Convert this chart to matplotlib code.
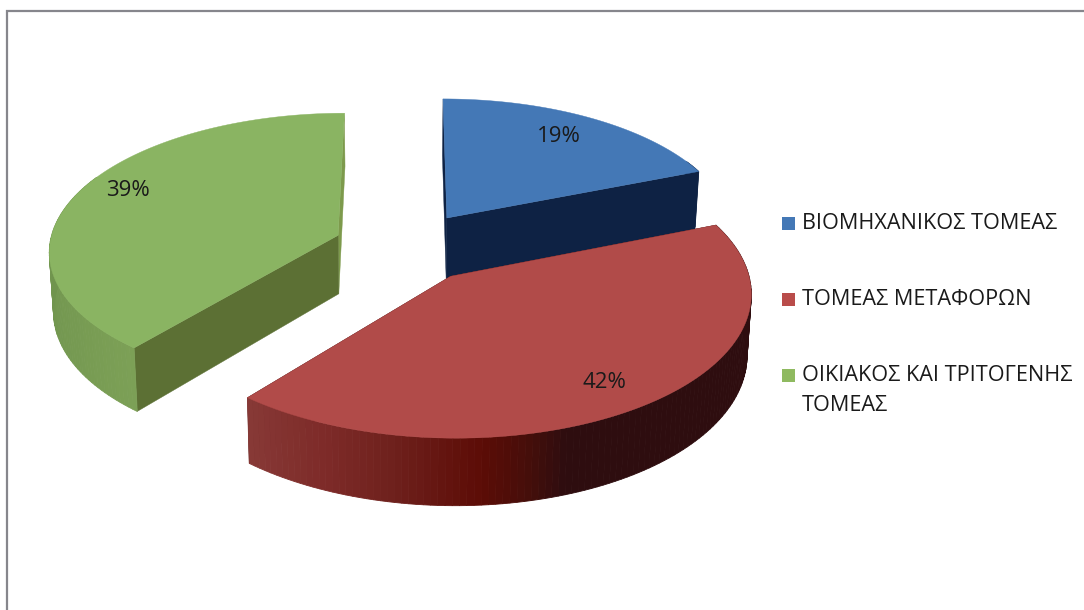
import numpy as np
import matplotlib
matplotlib.use("Agg")
import matplotlib.pyplot as plt
from matplotlib.patches import Rectangle

plt.rcParams['font.family'] = ['Open Sans', 'DejaVu Sans']

labels = ['ΒΙΟΜΗΧΑΝΙΚΟΣ ΤΟΜΕΑΣ', 'ΤΟΜΕΑΣ ΜΕΤΑΦΟΡΩΝ', 'ΟΙΚΙΑΚΟΣ ΚΑΙ ΤΡΙΤΟΓΕΝΗΣ\nΤΟΜΕΑΣ']
values = [19, 42, 39]
colors = ['#4478B6', '#B14B49', '#8AB462']
legend_colors = ['#4478B6', '#B94C4A', '#8FBA60']
radial_colors = ['#0E2244', '#3A0B0B', '#5C7034']
label_pos = [(559, 137), (604, 383), (128, 191)]
legend_y = [223, 299, 375]
explode = [0.26, 0.26, 0.25]
radius = [1, 1.01, 1]
face_z = [1.08, 1, 1]

# side wall shade going round the slice: angle in degrees, rgb
red_stops = ([60, 160, 167, 175, 190, 202, 219.6],
             [(46, 13, 15), (46, 13, 15), (70, 14, 10), (92, 12, 6), (110, 32, 28), (125, 42, 40), (136, 58, 55)])
green_stops = ([219.6, 240, 270, 300], [(124, 160, 86), (118, 154, 82), (112, 148, 78), (112, 148, 78)])
blue_stops = ([0, 360], [(14, 34, 68), (14, 34, 68)])

# projection of the tilted pie to pixels
cx, cy = 405.5, 246.8
rx, ry = 289, 137
depth = 59
persp = 0.1035
shrink = 0.012
vx = 398


def project(wx, wy, z):
    s = 1 / (1 + persp * wy)
    x = cx + rx * wx * s
    y = cy - ry * wy * s + depth * z * s
    x = vx + (x - vx) * (1 - shrink * z)
    return x, y


fig = plt.figure(figsize=(10.84, 6.10), dpi=100)
ax = fig.add_axes([0, 0, 1, 1])
ax.set_xlim(0, 1084)
ax.set_ylim(610, 0)
ax.axis('off')

# chart frame, the right and bottom sides are cut off in the picture
ax.plot([7, 7, 1084], [610, 11, 11], color='#86868C', lw=1.6, solid_joinstyle='miter')

fracs = np.array(values) / sum(values)
edges = np.concatenate([[0], np.cumsum(fracs)]) * 360
stops = [blue_stops, red_stops, green_stops]

for i in [0, 2, 1]:
    t0, t1 = edges[i], edges[i + 1]
    mid = np.radians((t0 + t1) / 2)
    ox, oy = explode[i] * np.sin(mid), explode[i] * np.cos(mid)
    ts = np.linspace(t0, t1, 121)
    px = ox + radius[i] * np.sin(np.radians(ts))
    py = oy + radius[i] * np.cos(np.radians(ts))

    # cut faces
    for k, t in enumerate([t1, t0]):
        ex, ey = ox + radius[i] * np.sin(np.radians(t)), oy + radius[i] * np.cos(np.radians(t))
        xa, ya = project(np.array([ox, ex]), np.array([oy, ey]), 0)
        xb, yb = project(np.array([ox, ex]), np.array([oy, ey]), face_z[i])
        c = radial_colors[i] if not (i == 2 and k == 0) else '#7D9A4C'
        ax.fill(np.r_[xa, xb[::-1]], np.r_[ya, yb[::-1]], color=c, lw=0.3)

    # outer wall, one strip per step so the shade can change
    for j in range(len(ts) - 1):
        if np.cos(np.radians(ts[j])) > 0.45:
            continue
        xa, ya = project(px[j:j + 2], py[j:j + 2], 0)
        xb, yb = project(px[j:j + 2], py[j:j + 2], 1)
        shade = [np.interp(ts[j], stops[i][0], [c[k] for c in stops[i][1]]) / 255 for k in range(3)]
        ax.fill(np.r_[xa, xb[::-1]], np.r_[ya, yb[::-1]], color=shade, lw=0.6)

    # top of the slice
    x, y = project(np.r_[ox, px], np.r_[oy, py], 0)
    ax.fill(x, y, color=colors[i], lw=0.3)

for v, (lx, ly) in zip(values, label_pos):
    ax.text(lx, ly, '%d%%' % v, ha='center', va='center', fontsize=16, color='#1A1A1A')

for lab, c, ly in zip(labels, legend_colors, legend_y):
    ax.add_patch(Rectangle((782, ly - 6.5), 13, 13, color=c, lw=0))
    ax.text(802, ly + 0.5, lab.split('\n')[0], ha='left', va='center', fontsize=15.6, color='#1A1A1A')
    if '\n' in lab:
        ax.text(802, ly + 30.5, lab.split('\n')[1], ha='left', va='center', fontsize=15.6, color='#1A1A1A')

fig.savefig('out.png', dpi=100)
